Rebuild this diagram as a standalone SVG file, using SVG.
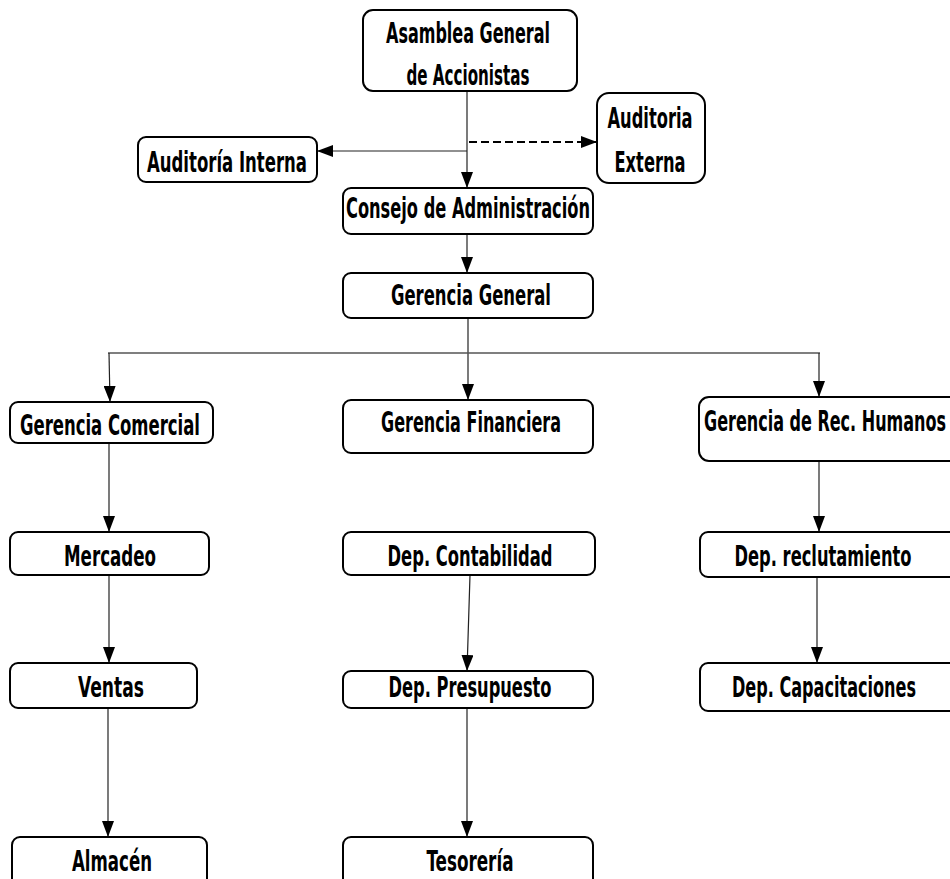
<svg xmlns="http://www.w3.org/2000/svg" width="950" height="879" viewBox="0 0 950 879">
<style>
.box{fill:#fff;stroke:#000;stroke-width:2}
.t{font-family:"Liberation Sans Narrow","DejaVu Sans Condensed","Liberation Sans",sans-serif;font-weight:bold;font-size:28px;fill:#000;text-anchor:middle}
.c{stroke:#222;stroke-width:1.2;fill:none;marker-end:url(#ah)}
.l{stroke:#555;stroke-width:1.5;fill:none}
.d{stroke:#000;stroke-width:2;stroke-dasharray:8 4;fill:none;marker-end:url(#ah)}
</style>
<defs>
<marker id="ah" viewBox="0 0 16 12" refX="16" refY="6" markerWidth="16" markerHeight="12" markerUnits="userSpaceOnUse" orient="auto">
<path d="M0,0 L16,6 L0,12 z" fill="#000"/>
</marker>
</defs>
<rect width="950" height="879" fill="#fff"/>
<g id="connectors">
<line class="c" x1="467" y1="91" x2="467" y2="188"/>
<line class="c" x1="467" y1="151" x2="317" y2="151"/>
<line class="d" x1="469" y1="142" x2="597" y2="142"/>
<line class="c" x1="467" y1="234" x2="467" y2="273"/>
<line class="c" x1="468" y1="318" x2="468" y2="400"/>
<line class="l" x1="108" y1="353" x2="820" y2="353"/>
<line class="c" x1="109" y1="353" x2="110" y2="402"/>
<line class="c" x1="819" y1="353" x2="819" y2="397"/>
<line class="c" x1="109" y1="443" x2="109" y2="532"/>
<line class="c" x1="109" y1="575" x2="109" y2="663"/>
<line class="c" x1="108" y1="708" x2="108" y2="837"/>
<line class="c" x1="470" y1="575" x2="467" y2="671"/>
<line class="c" x1="467" y1="708" x2="467" y2="837"/>
<line class="c" x1="819" y1="461" x2="819" y2="532"/>
<line class="c" x1="817" y1="577" x2="817" y2="663"/>
</g>
<g id="asamblea"><rect class="box" x="363" y="10" width="214" height="81" rx="10"/>
<text class="t" x="468" y="43" textLength="164" lengthAdjust="spacingAndGlyphs">Asamblea General</text>
<text class="t" x="468" y="85" textLength="123" lengthAdjust="spacingAndGlyphs">de Accionistas</text></g>
<g id="auditoria-interna"><rect class="box" x="138" y="137" width="179" height="45" rx="8"/>
<text class="t" x="227" y="172" textLength="160" lengthAdjust="spacingAndGlyphs">Auditoría Interna</text></g>
<g id="auditoria-externa"><rect class="box" x="597" y="93" width="108" height="90" rx="12"/>
<text class="t" x="650" y="128" textLength="85" lengthAdjust="spacingAndGlyphs">Auditoria</text>
<text class="t" x="650" y="172" textLength="71" lengthAdjust="spacingAndGlyphs">Externa</text></g>
<g id="consejo"><rect class="box" x="343" y="188" width="250" height="46" rx="8"/>
<text class="t" x="468" y="218" textLength="244" lengthAdjust="spacingAndGlyphs">Consejo de Administración</text></g>
<g id="gerencia-general"><rect class="box" x="343" y="273" width="250" height="45" rx="8"/>
<text class="t" x="471" y="305" textLength="160" lengthAdjust="spacingAndGlyphs">Gerencia General</text></g>
<g id="gerencia-comercial"><rect class="box" x="10" y="402" width="203" height="41" rx="8"/>
<text class="t" x="110" y="435" textLength="180" lengthAdjust="spacingAndGlyphs">Gerencia Comercial</text></g>
<g id="gerencia-financiera"><rect class="box" x="343" y="400" width="250" height="53" rx="8"/>
<text class="t" x="471" y="432" textLength="180" lengthAdjust="spacingAndGlyphs">Gerencia Financiera</text></g>
<g id="gerencia-rrhh"><rect class="box" x="699" y="397" width="265" height="64" rx="10"/>
<text class="t" x="825" y="431" textLength="242" lengthAdjust="spacingAndGlyphs">Gerencia de Rec. Humanos</text></g>
<g id="mercadeo"><rect class="box" x="10" y="532" width="199" height="43" rx="8"/>
<text class="t" x="110" y="566" textLength="92" lengthAdjust="spacingAndGlyphs">Mercadeo</text></g>
<g id="contabilidad"><rect class="box" x="343" y="532" width="252" height="43" rx="8"/>
<text class="t" x="470" y="566" textLength="165" lengthAdjust="spacingAndGlyphs">Dep. Contabilidad</text></g>
<g id="reclutamiento"><rect class="box" x="700" y="532" width="265" height="45" rx="8"/>
<text class="t" x="823" y="566" textLength="177" lengthAdjust="spacingAndGlyphs">Dep. reclutamiento</text></g>
<g id="ventas"><rect class="box" x="10" y="663" width="187" height="45" rx="8"/>
<text class="t" x="111" y="697" textLength="66" lengthAdjust="spacingAndGlyphs">Ventas</text></g>
<g id="presupuesto"><rect class="box" x="343" y="671" width="250" height="37" rx="8"/>
<text class="t" x="470" y="697" textLength="163" lengthAdjust="spacingAndGlyphs">Dep. Presupuesto</text></g>
<g id="capacitaciones"><rect class="box" x="700" y="663" width="265" height="48" rx="8"/>
<text class="t" x="824" y="697" textLength="184" lengthAdjust="spacingAndGlyphs">Dep. Capacitaciones</text></g>
<g id="almacen"><rect class="box" x="12" y="837" width="195" height="60" rx="8"/>
<text class="t" x="112" y="871" textLength="80" lengthAdjust="spacingAndGlyphs">Almacén</text></g>
<g id="tesoreria"><rect class="box" x="343" y="837" width="250" height="60" rx="8"/>
<text class="t" x="470" y="871" textLength="87" lengthAdjust="spacingAndGlyphs">Tesorería</text></g>
</svg>
